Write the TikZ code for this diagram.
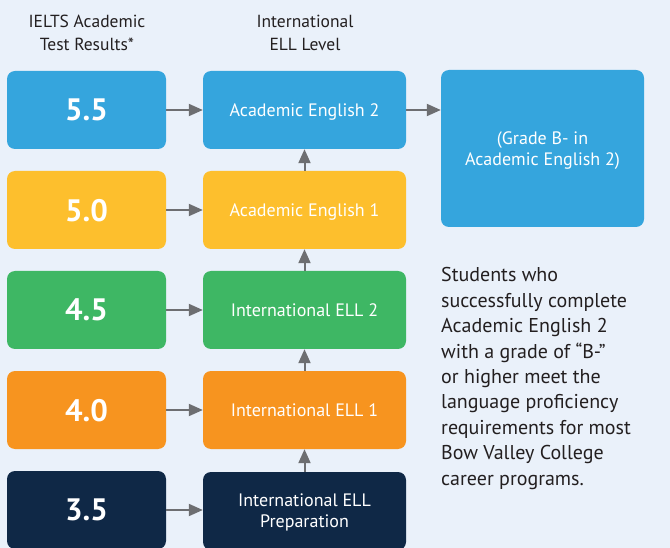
\documentclass[tikz,border=0pt]{standalone}
\usepackage{fontspec}
\setmainfont{PT Sans}
\usetikzlibrary{arrows.meta}
\definecolor{bgc}{HTML}{EAF1FA}
\definecolor{cblue}{HTML}{35A5DD}
\definecolor{cyellow}{HTML}{FDBF2D}
\definecolor{cgreen}{HTML}{3EB764}
\definecolor{corange}{HTML}{F7941F}
\definecolor{cnavy}{HTML}{0F2846}
\definecolor{txt}{HTML}{231F20}
\definecolor{arr}{HTML}{6D6E71}
\tikzset{
  box/.style={rectangle, rounded corners=8pt, inner sep=0pt, text=white, align=center, text depth=0pt},
  scorebox/.style={box, minimum width=159pt, minimum height=78pt, font=\fontsize{31}{33}\selectfont\bfseries},
  levelbox/.style={box, minimum width=203pt, minimum height=78pt, font=\fontsize{18}{21}\selectfont},
  head/.style={align=center, text=txt, inner sep=0pt, font=\fontsize{17.5}{23}\selectfont},
  conn/.style={draw=arr, line width=2pt, -{Triangle[length=14pt,width=12pt]}, fill=arr}
}
\begin{document}
\begin{tikzpicture}[x=1pt,y=-1pt]
\fill[bgc] (0,0) rectangle (670,548);
\useasboundingbox (0,0) rectangle (670,548);

\node[head, anchor=base] (h1) at (87,51) {IELTS Academic\\Test Results*};
\node[head, anchor=base] (h2) at (305,51) {International\\ELL Level};

\node[scorebox, fill=cblue]   (s1) at (86.5,110) {5.5};
\node[scorebox, fill=cyellow] (s2) at (86.5,210) {5.0};
\node[scorebox, fill=cgreen]  (s3) at (86.5,310) {4.5};
\node[scorebox, fill=corange] (s4) at (86.5,410) {4.0};
\node[scorebox, fill=cnavy]   (s5) at (86.5,510) {3.5};

\node[levelbox, fill=cblue]   (m1) at (304.5,110) {Academic English 2};
\node[levelbox, fill=cyellow] (m2) at (304.5,210) {Academic English 1};
\node[levelbox, fill=cgreen]  (m3) at (304.5,310) {International ELL 2};
\node[levelbox, fill=corange] (m4) at (304.5,410) {International ELL 1};
\node[levelbox, fill=cnavy]   (m5) at (304.5,511) {International ELL\\Preparation};

\node[box, fill=cblue, minimum width=203pt, minimum height=157pt, font=\fontsize{18}{21}\selectfont] (r) at (542.5,148.5) {(Grade B- in\\Academic English 2)};

\node[anchor=north west, inner sep=0pt, align=left, text=txt, font=\fontsize{20}{25.4}\selectfont] (p) at (441,267.5)
 {Students who\\successfully complete\\Academic English 2\\with a grade of “B-”\\or higher meet the\\language proficiency\\requirements for most\\Bow Valley College\\career programs.};

\foreach \i in {1,...,5} {\draw[conn] (s\i.east) -- (s\i.east -| m\i.west);}
\draw[conn] (m2.north) -- (m1.south);
\draw[conn] (m3.north) -- (m2.south);
\draw[conn] (m4.north) -- (m3.south);
\draw[conn] (m5.north) -- (m4.south);
\draw[conn] (m1.east) -- (m1.east -| r.west);
\end{tikzpicture}
\end{document}
